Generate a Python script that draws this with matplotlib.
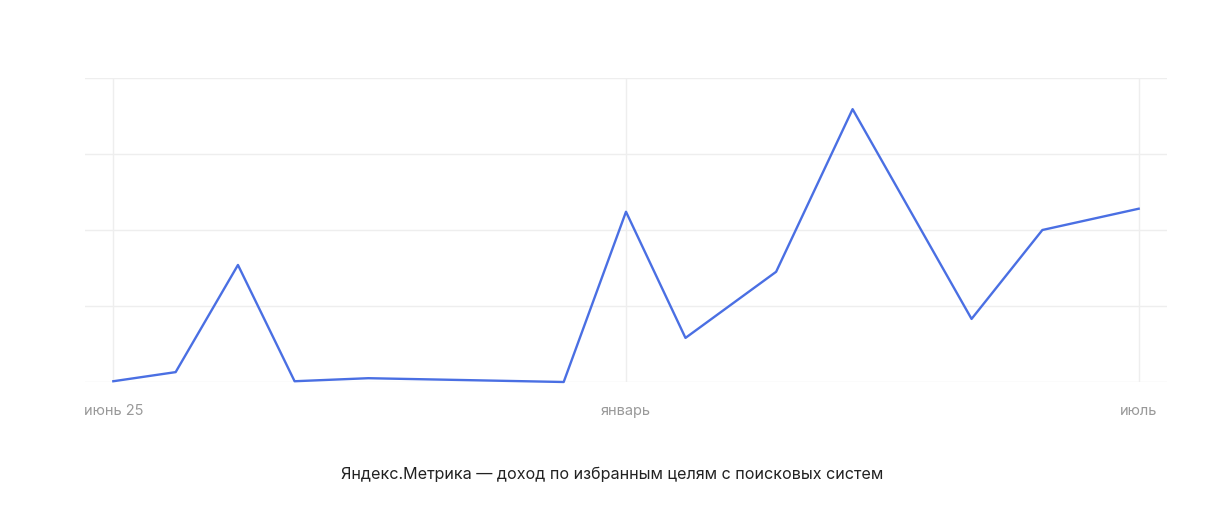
import pandas as pd
import matplotlib
matplotlib.use("Agg")
import matplotlib.pyplot as plt

plt.rcParams["font.family"] = ["Inter", "DejaVu Sans"]

dates = ["2025-07-04", "2025-07-26", "2025-08-17", "2025-09-06", "2025-10-02",
         "2025-12-10", "2026-01-01", "2026-01-22", "2026-02-23", "2026-03-22",
         "2026-05-03", "2026-05-28", "2026-07-01"]
values = [0.01, 0.13, 1.54, 0.01, 0.05, 0.0, 2.24, 0.58, 1.45, 3.59, 0.83, 2.0, 2.28]

tick_dates = ["2025-07-04", "2026-01-01", "2026-07-01"]
tick_labels = ["июнь 25", "январь", "июль"]

title = "Яндекс.Метрика — доход по избранным целям с поисковых систем"

x = pd.to_datetime(dates)
center = pd.Timestamp("2026-01-01")

fig = plt.figure(figsize=(12.24, 5.31), dpi=100)
ax = fig.add_axes([85 / 1224, 1 - 382 / 531, (1167 - 85) / 1224, (382 - 78) / 531])

ax.plot(x, values, color="#4a6fe3", linewidth=1.7, clip_on=False, zorder=3)

ax.set_xlim(center - pd.Timedelta(days=191), center + pd.Timedelta(days=191))
ax.set_ylim(0, 4)
ax.set_yticks([0, 1, 2, 3, 4])
ax.set_yticklabels([])
ax.set_xticks(pd.to_datetime(tick_dates))
ax.set_xticklabels(tick_labels)

ax.grid(True, color="#eeeeee", linewidth=1)
ax.tick_params(length=0, labelsize=10.5, labelcolor="#999999", pad=16)
for s in ax.spines.values():
    s.set_visible(False)

fig.text(0.5, 1 - 474 / 531, title, ha="center", va="center",
         fontsize=11.6, color="#222222")

plt.savefig("out.png", dpi=100)
